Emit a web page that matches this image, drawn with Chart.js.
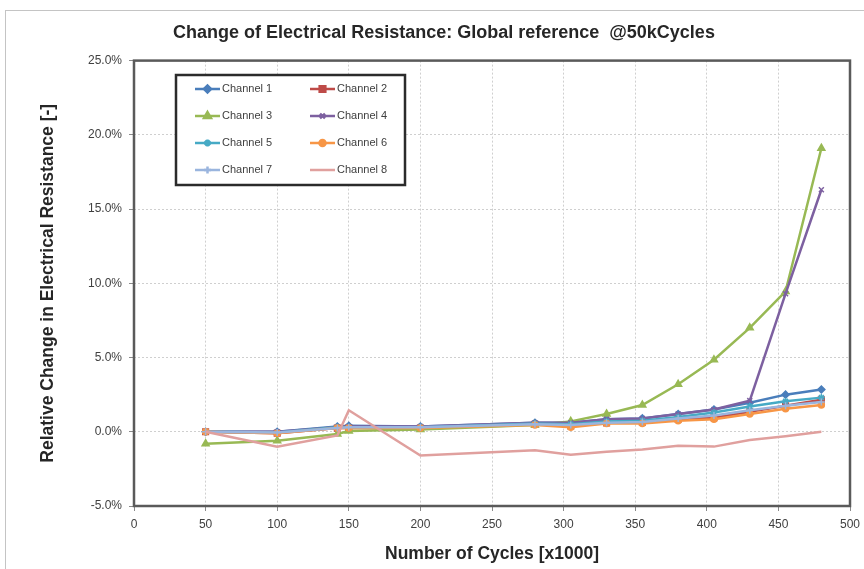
<!DOCTYPE html>
<html>
<head>
<meta charset="utf-8">
<title>Change of Electrical Resistance</title>
<script src="https://cdn.jsdelivr.net/npm/chart.js@4.4.1/dist/chart.umd.min.js"></script>
<style>
    html, body { margin: 0; padding: 0; background: #fff; }
    #wrap { width: 864px; height: 569px; position: relative; }
</style>
</head>
<body>
<div id="wrap"><canvas id="resistance-chart"></canvas></div>
<script>
// Data (x = cycles x1000, y = relative change in %)
const cycles   = [50, 100, 142, 150, 200, 280, 305, 330, 355, 380, 405, 430, 455, 480];
const channel1 = [0.0, 0.0, 0.35, 0.4, 0.35, 0.6, 0.6, 0.85, 0.9, 1.2, 1.5, 1.95, 2.5, 2.85];
const channel2 = [0.0, -0.1, 0.25, 0.25, 0.25, 0.5, 0.4, 0.6, 0.65, 0.85, 0.95, 1.35, 1.75, 2.15];
const channel3 = [-0.8, -0.6, -0.15, 0.05, 0.15, 0.45, 0.7, 1.2, 1.8, 3.2, 4.85, 7.0, 9.45, 19.1];
const channel4 = [0.0, 0.0, 0.3, 0.35, 0.35, 0.6, 0.6, 0.85, 0.9, 1.2, 1.5, 2.1, 9.3, 16.3];
const channel5 = [0.0, -0.05, 0.3, 0.3, 0.3, 0.55, 0.5, 0.7, 0.75, 1.0, 1.3, 1.7, 2.05, 2.3];
const channel6 = [0.0, -0.1, 0.25, 0.25, 0.25, 0.45, 0.3, 0.55, 0.55, 0.75, 0.85, 1.2, 1.55, 1.8];
const channel7 = [0.0, -0.05, 0.25, 0.3, 0.3, 0.5, 0.45, 0.6, 0.65, 0.9, 1.1, 1.45, 1.75, 2.0];
const channel8 = [0.0, -1.0, -0.25, 1.45, -1.6, -1.25, -1.55, -1.35, -1.2, -0.95, -1.0, -0.55, -0.3, 0.0];

const channelNames = ['Channel 1', 'Channel 2', 'Channel 3', 'Channel 4',
                      'Channel 5', 'Channel 6', 'Channel 7', 'Channel 8'];
const channelValues = [channel1, channel2, channel3, channel4,
                       channel5, channel6, channel7, channel8];

// Axis ranges / steps
const xMin = 0, xMax = 500, xStep = 50;
const yMin = -5, yMax = 25, yStep = 5;

// Look of each series (Excel 2007 style palette)
const colors = ['#4a7ebb', '#be4b48', '#98b954', '#7d60a0', '#46aac5', '#f79646', '#9ab5de', '#e0a09e'];
const markers = ['rectRot', 'rect', 'triangle', 'crossRot', 'star', 'circle', 'cross', false];
const markerSizes = [3.5, 4, 4, 3.5, 3.5, 3, 3.5, 0];

const font = '"Liberation Sans", Arial, sans-serif';

const datasets = channelNames.map((name, i) => ({
    label: name,
    data: cycles.map((c, k) => ({ x: c, y: channelValues[i][k] })),
    borderColor: colors[i],
    backgroundColor: colors[i],
    borderWidth: 2.5,
    pointStyle: markers[i],
    pointRadius: markerSizes[i],
    pointBorderWidth: 1.5,
    pointHoverRadius: markerSizes[i],
    tension: 0,
    // later channels are drawn on top, like in Excel
    order: channelNames.length - i
}));

// Frame, outer border and the boxed legend inside the plot
const decorations = {
    id: 'decorations',
    beforeDraw(chart) {
        const ctx = chart.ctx;
        ctx.save();
        ctx.fillStyle = '#fff';
        ctx.fillRect(0, 0, chart.width, chart.height);
        ctx.strokeStyle = '#c4c4c4';
        ctx.lineWidth = 1;
        ctx.strokeRect(5.5, 10.5, chart.width + 20, chart.height + 20);
        ctx.restore();
    },
    beforeDatasetsDraw(chart) {
        const a = chart.chartArea;
        const ctx = chart.ctx;
        ctx.save();
        ctx.strokeStyle = '#5a5a5a';
        ctx.lineWidth = 2.5;
        ctx.strokeRect(a.left, a.top, a.right - a.left, a.bottom - a.top);
        ctx.restore();
    },
    afterDraw(chart) {
        const ctx = chart.ctx;
        const box = { x: 176, y: 75, w: 229, h: 110 };
        ctx.save();
        ctx.fillStyle = '#fff';
        ctx.fillRect(box.x, box.y, box.w, box.h);
        ctx.strokeStyle = '#2b2b2b';
        ctx.lineWidth = 2.5;
        ctx.strokeRect(box.x, box.y, box.w, box.h);

        const colX = [195, 310];
        const rowY = [89, 116, 143, 170];
        ctx.font = '11px ' + font;
        ctx.textBaseline = 'middle';
        chart.data.datasets.forEach((ds, i) => {
            const x = colX[i % 2];
            const y = rowY[Math.floor(i / 2)];
            ctx.strokeStyle = ds.borderColor;
            ctx.lineWidth = ds.borderWidth;
            ctx.beginPath();
            ctx.moveTo(x, y);
            ctx.lineTo(x + 25, y);
            ctx.stroke();
            if (ds.pointStyle) {
                ctx.fillStyle = ds.backgroundColor;
                Chart.helpers.drawPoint(ctx, {
                    pointStyle: ds.pointStyle,
                    radius: ds.pointRadius,
                    rotation: 0,
                    borderWidth: ds.pointBorderWidth
                }, x + 12.5, y);
            }
            ctx.fillStyle = '#404040';
            ctx.fillText(ds.label, x + 27, y);
        });
        ctx.restore();
    }
};

new Chart(document.getElementById('resistance-chart'), {
    type: 'line',
    data: { datasets: datasets },
    options: {
        responsive: true,
        maintainAspectRatio: false,
        animation: false,
        layout: { padding: { left: 38, right: 14, top: 0, bottom: 0 } },
        scales: {
            x: {
                type: 'linear',
                min: xMin,
                max: xMax,
                border: { display: false, dash: [2, 2] },
                ticks: {
                    stepSize: xStep,
                    color: '#404040',
                    padding: 6,
                    font: { family: font, size: 12 }
                },
                grid: {
                    color: '#cfcfcf',
                    tickColor: '#8a8a8a',
                    tickLength: 5
                },
                title: {
                    display: true,
                    text: 'Number of Cycles [x1000]',
                    color: '#262626',
                    font: { family: font, size: 17.5, weight: 'bold' },
                    padding: { top: 4, bottom: 4 }
                },
                afterFit(scale) { scale.height = 63; scale.paddingRight = 14; }
            },
            y: {
                min: yMin,
                max: yMax,
                border: { display: false, dash: [2, 2] },
                ticks: {
                    stepSize: yStep,
                    color: '#404040',
                    padding: 7,
                    font: { family: font, size: 12 },
                    callback: v => v.toFixed(1) + '%'
                },
                grid: {
                    color: '#cfcfcf',
                    tickColor: '#8a8a8a',
                    tickLength: 5
                },
                title: {
                    display: true,
                    text: 'Relative Change in Electrical Resistance [-]',
                    color: '#262626',
                    font: { family: font, size: 17.5, weight: 'bold' },
                    padding: { top: 0, bottom: 0 }
                },
                afterFit(scale) { scale.width = 96; }
            }
        },
        plugins: {
            legend: { display: false },
            tooltip: { enabled: false },
            title: {
                display: true,
                text: 'Change of Electrical Resistance: Global reference  @50kCycles',
                color: '#262626',
                font: { family: font, size: 18, weight: 'bold' },
                padding: { top: 22, bottom: 17 }
            }
        }
    },
    plugins: [decorations]
});
</script>
</body>
</html>
